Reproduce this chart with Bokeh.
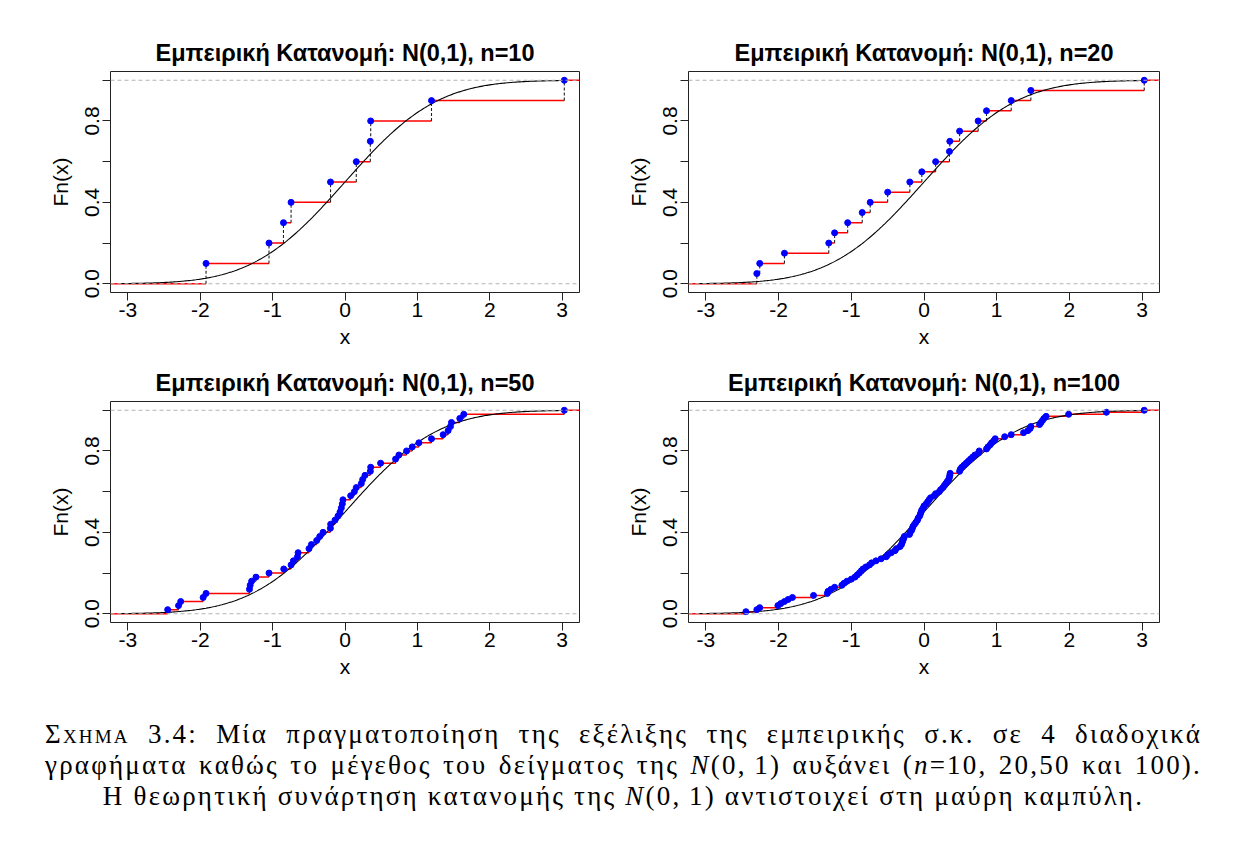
import math
from bokeh.plotting import figure
from bokeh.models import FixedTicker, Div, Range1d, Span
from bokeh.layouts import column, row
from bokeh.embed import file_html
from bokeh.resources import INLINE

# ---------------- data ----------------
titles = [
    "Εμπειρική Κατανομή: N(0,1), n=10",
    "Εμπειρική Κατανομή: N(0,1), n=20",
    "Εμπειρική Κατανομή: N(0,1), n=50",
    "Εμπειρική Κατανομή: N(0,1), n=100",
]

sample_n10 = [-1.92, -1.05, -0.85, -0.745, -0.20, 0.156, 0.35, 0.355, 1.195, 3.03]

sample_n20 = [-2.30, -2.26, -1.92, -1.31, -1.23, -1.05, -0.85, -0.74, -0.50, -0.195,
              -0.03, 0.16, 0.35, 0.355, 0.49, 0.745, 0.86, 1.20, 1.47, 3.03]

sample_n50 = [-2.45, -2.30, -2.27, -1.96, -1.92, -1.32, -1.31, -1.29, -1.23, -1.05,
              -0.846, -0.745, -0.713, -0.657, -0.648, -0.497, -0.464, -0.391, -0.349, -0.303,
              -0.202, -0.198, -0.138, -0.097, -0.069, -0.051, -0.037, -0.028, 0.078, 0.129,
              0.156, 0.225, 0.244, 0.276, 0.350, 0.355, 0.492, 0.699, 0.745, 0.851,
              0.929, 1.021, 1.195, 1.356, 1.425, 1.457, 1.471, 1.586, 1.641, 3.03]

sample_n100 = [-2.45, -2.30, -2.26, -2.01, -1.97, -1.92, -1.87, -1.81, -1.52, -1.33,
               -1.32, -1.28, -1.23, -1.13, -1.10, -1.06, -1.00, -0.95, -0.92, -0.89,
               -0.865, -0.84, -0.80, -0.75, -0.72, -0.66, -0.59, -0.52, -0.50, -0.45,
               -0.40, -0.38, -0.33, -0.31, -0.30, -0.29, -0.28, -0.27, -0.20, -0.19,
               -0.17, -0.16, -0.15, -0.13, -0.11, -0.09, -0.08, -0.06, -0.05, -0.04,
               -0.03, -0.01, 0.00, 0.03, 0.05, 0.07, 0.09, 0.14, 0.16, 0.21,
               0.23, 0.26, 0.28, 0.30, 0.32, 0.34, 0.35, 0.355, 0.36, 0.49,
               0.50, 0.52, 0.55, 0.58, 0.61, 0.64, 0.67, 0.70, 0.75, 0.76,
               0.86, 0.88, 0.91, 0.93, 0.96, 0.98, 1.11, 1.20, 1.37, 1.43,
               1.46, 1.47, 1.59, 1.61, 1.63, 1.65, 1.68, 1.99, 2.51, 3.03]

x_ticks = [-3, -2, -1, 0, 1, 2, 3]
x_tick_labels = {-3: "-3", -2: "-2", -1: "-1", 0: "0", 1: "1", 2: "2", 3: "3"}
y_ticks = [0, 0.2, 0.4, 0.6, 0.8, 1.0]
y_tick_labels = {0: "0.0", 0.2: "", 0.4: "0.4", 0.6: "", 0.8: "0.8", 1.0: ""}

x_label = "x"
y_label = "Fn(x)"

caption_lines = [
    '<span style="font-variant:small-caps">Σχημα</span> 3.4: Μία πραγματοποίηση της εξέλιξης της εμπειρικής σ.κ. σε 4 διαδοχικά',
    'γραφήματα καθώς το μέγεθος του δείγματος της <i>N</i>(0,&thinsp;1) αυξάνει (<i>n</i>=10, 20,50 και 100).',
    'Η θεωρητική συνάρτηση κατανομής της <i>N</i>(0,&thinsp;1) αντιστοιχεί στη μαύρη καμπύλη.',
]

# theoretical N(0,1) cdf curve grid
curve_x = [-3.1 + 0.02 * k for k in range(310)]
curve_y = [0.5 * (1.0 + math.erf(v / math.sqrt(2.0))) for v in curve_x]

X_LO, X_HI = -3.24, 3.24
Y_LO, Y_HI = -0.043, 1.043

FONT = "Liberation Sans"


def make_panel(title, xs, width, height, mbl, mbr, mbt, mbb):
    p = figure(width=width, height=height, output_backend="svg", toolbar_location=None,
               x_range=Range1d(X_LO, X_HI), y_range=Range1d(Y_LO, Y_HI),
               min_border_left=mbl, min_border_right=mbr,
               min_border_top=mbt, min_border_bottom=mbb)
    p.background_fill_color = "white"
    p.border_fill_color = "white"
    p.grid.visible = False
    p.outline_line_color = "#222222"
    p.outline_line_width = 1

    p.title.text = title
    p.title.align = "center"
    p.title.text_font = FONT
    p.title.text_font_style = "bold"
    p.title.text_font_size = "23.5px"
    p.title.text_color = "black"
    p.title.standoff = 11

    for ax in (p.xaxis[0], p.yaxis[0]):
        ax.axis_line_color = None
        ax.major_tick_line_color = "#222222"
        ax.major_tick_in = 0
        ax.major_tick_out = 8
        ax.minor_tick_line_color = None
        ax.major_label_text_font = FONT
        ax.major_label_text_font_size = "21px"
        ax.major_label_text_color = "black"
        ax.axis_label_text_font = FONT
        ax.axis_label_text_font_style = "normal"
        ax.axis_label_text_font_size = "21px"
        ax.axis_label_text_color = "black"

    p.xaxis.ticker = FixedTicker(ticks=x_ticks)
    p.xaxis.major_label_overrides = x_tick_labels
    p.xaxis.axis_label = x_label
    p.xaxis.major_label_standoff = 2
    p.xaxis.axis_label_standoff = 5

    p.yaxis.ticker = FixedTicker(ticks=y_ticks)
    p.yaxis.major_label_overrides = y_tick_labels
    p.yaxis.major_label_orientation = "vertical"
    p.yaxis.axis_label = y_label
    p.yaxis.major_label_standoff = 3
    p.yaxis.axis_label_standoff = 11

    # horizontal gray dashed reference lines at 0 and 1
    for lvl in (0, 1):
        p.add_layout(Span(location=lvl, dimension="width", line_color="#B3B3B3",
                          line_dash="4 3", line_width=1))

    n = len(xs)
    levels = [(i + 1) / n for i in range(n)]

    # red horizontal steps
    p.segment(x0=[X_LO] + xs, x1=xs + [X_HI], y0=[0] + levels, y1=[0] + levels,
              line_color="red", line_width=1.5)
    # black dashed vertical jumps
    p.segment(x0=xs, x1=xs, y0=[0] + levels[:-1], y1=levels,
              line_color="#222222", line_width=1.1, line_dash="3 2")
    # theoretical cdf
    p.line(curve_x, curve_y, line_color="black", line_width=1.1)
    # observed points
    p.scatter(xs, levels, size=6, color="blue")
    return p


p1 = make_panel(titles[0], sample_n10, 620, 350, 110, 41, 71, 58)
p2 = make_panel(titles[1], sample_n20, 613, 350, 68, 74, 71, 58)
p3 = make_panel(titles[2], sample_n50, 620, 350, 110, 41, 51, 78)
p4 = make_panel(titles[3], sample_n100, 613, 350, 68, 74, 51, 78)

line_style = ("font-family:'Liberation Serif',serif;font-size:27px;line-height:31px;"
              "letter-spacing:2.2px;color:black;white-space:nowrap;")
html = ('<div style="padding-top:14px;margin-left:40px;width:1157px;">'
        f'<div style="{line_style}text-align:justify;text-align-last:justify;">{caption_lines[0]}</div>'
        f'<div style="{line_style}text-align:justify;text-align-last:justify;">{caption_lines[1]}</div>'
        f'<div style="{line_style}text-align:center;">{caption_lines[2]}</div>'
        '</div>')
caption = Div(text=html, width=1233, height=143)

layout = column(row(p1, p2), row(p3, p4), caption)
open("out.html", "w").write(file_html(layout, INLINE))
